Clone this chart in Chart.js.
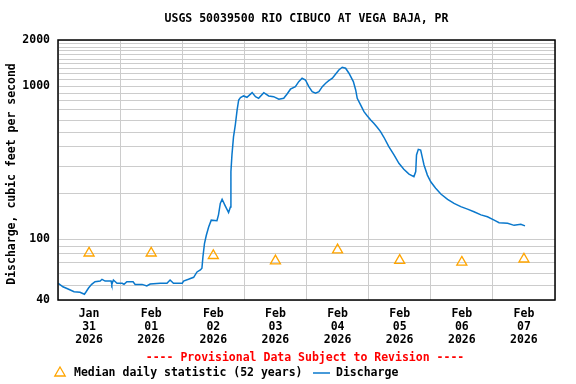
<!DOCTYPE html>
<html>
<head>
<meta charset="utf-8">
<script src="https://cdn.jsdelivr.net/npm/chart.js@4/dist/chart.umd.min.js"></script>
<style>
  html, body { margin: 0; padding: 0; background: #ffffff; }
  #wrap { width: 576px; height: 384px; }
</style>
</head>
<body>
<div id="wrap"><canvas id="c" width="576" height="384"></canvas></div>
<script>
// ---- Data ----
const chartTitle = 'USGS 50039500 RIO CIBUCO AT VEGA BAJA, PR';
const yAxisTitle = 'Discharge, cubic feet per second';
const provisionalNote = '---- Provisional Data Subject to Revision ----';
const medianLabel = 'Median daily statistic (52 years)';
const dischargeLabel = 'Discharge';

// x values: hours since 2026-01-31 00:00
const dayMonths = ['Jan', 'Feb', 'Feb', 'Feb', 'Feb', 'Feb', 'Feb', 'Feb'];
const dayNumbers = ['31', '01', '02', '03', '04', '05', '06', '07'];
const dayYears = ['2026', '2026', '2026', '2026', '2026', '2026', '2026', '2026'];

const yTickValues = [40, 50, 60, 70, 80, 90, 100, 200, 300, 400, 500, 600, 700, 800, 900,
  1000, 1100, 1200, 1300, 1400, 1500, 1600, 1700, 1800, 1900, 2000];
const yLabeledTicks = [40, 100, 1000, 2000];

const dischargeHours = [0.1, 1.9, 3.9, 6.2, 8.5, 10.2, 10.8, 11.8, 13.0, 14.3, 16.3, 17.0, 18.2, 20.5, 20.8,
  21.4, 22.8, 24.8, 25.5, 26.6, 29.0, 29.8, 32.5, 34.3, 35.6, 39.5, 42.1, 43.3, 44.6, 48.0,
  48.5, 50.4, 52.4, 53.7, 55.0, 55.6, 56.0, 56.6, 57.3, 58.2, 59.2, 61.4, 62.0, 62.7, 63.4,
  64.6, 65.9, 66.6, 66.8, 67.2, 67.8, 68.5, 69.2, 69.8, 70.5, 71.7, 73.0, 75.0, 76.3, 77.5,
  79.5, 81.4, 83.3, 85.3, 87.2, 88.5, 89.8, 91.7, 93.0, 94.3, 95.6, 96.9, 98.2, 99.5, 100.8,
  102.1, 103.4, 104.6, 106.0, 107.2, 108.5, 109.8, 111.1, 112.4, 114.1, 115.0, 115.6, 116.9,
  118.2, 119.5, 120.8, 122.0, 123.3, 124.6, 125.9, 127.8, 129.8, 131.7, 133.6, 135.6, 137.5,
  138.2, 138.5, 139.2, 140.1, 140.8, 141.4, 142.7, 144.0, 145.9, 147.9, 150.5, 153.0, 155.6,
  158.2, 160.7, 163.4, 165.9, 168.5, 170.4, 173.7, 176.2, 178.8, 180.4];
const dischargeCfs = [51.4, 48.8, 47.2, 45.3, 44.9, 43.6, 45.1, 47.9, 50.6, 52.7, 53.2, 54.6, 53.2, 53.2, 50.6,
  54.0, 51.4, 51.4, 50.6, 52.7, 52.7, 50.6, 50.6, 49.4, 50.9, 51.4, 51.4, 54.0, 51.4, 51.4,
  53.2, 54.6, 56.3, 61.0, 62.8, 64.5, 76.8, 93.9, 106, 120, 133, 132, 144, 171, 182,
  165, 149, 162, 275, 355, 465, 557, 698, 811, 840, 862, 845, 906, 853, 832,
  906, 862, 853, 820, 832, 888, 954, 992, 1069, 1125, 1096, 992, 919, 898, 919,
  992, 1044, 1085, 1125, 1195, 1274, 1328, 1308, 1213, 1069, 943, 832, 753,
  680, 638, 601, 571, 538, 504, 463, 402, 355, 313, 286, 266, 256,
  276, 355, 386, 382, 338, 305, 262, 237, 215, 197, 182, 171, 163,
  157, 151, 144, 140, 133, 128, 127, 123, 125, 122];

// Median daily statistic, plotted at noon of each day
const medianHours = [12, 36, 60, 84, 108, 132, 156, 180];
const medianCfs = [81, 81, 78, 72, 85, 72.5, 70.6, 74];

// ---- Chart ----
const FONT = "'DejaVu Sans Mono', monospace";
Chart.defaults.font.family = FONT;
Chart.defaults.font.size = 11.5;
Chart.defaults.font.weight = 'bold';
Chart.defaults.color = '#000';

const GRID = '#cccccc';
const BLUE = '#0a78cc';
const ORANGE = '#ffa500';

const frameAndText = {
  id: 'frameAndText',
  afterDraw(chart) {
    const ctx = chart.ctx;
    const a = chart.chartArea;
    ctx.save();
    ctx.strokeStyle = '#000';
    ctx.lineWidth = 1.5;
    ctx.strokeRect(a.left, a.top, a.right - a.left, a.bottom - a.top);

    ctx.font = 'bold 11.5px ' + FONT;
    ctx.fillStyle = '#000';
    ctx.textBaseline = 'middle';
    ctx.textAlign = 'center';
    ctx.fillText(chartTitle, (a.left + a.right) / 2, 19);

    ctx.save();
    ctx.translate(12, 174);
    ctx.rotate(-Math.PI / 2);
    ctx.fillText(yAxisTitle, 0, 0);
    ctx.restore();

    ctx.fillStyle = '#ff0000';
    ctx.fillText(provisionalNote, 305, 358.5);

    // legend
    const ly = 373;
    ctx.strokeStyle = ORANGE;
    ctx.lineWidth = 1.3;
    ctx.beginPath();
    ctx.moveTo(60, ly - 6);
    ctx.lineTo(65.2, ly + 3);
    ctx.lineTo(54.8, ly + 3);
    ctx.closePath();
    ctx.stroke();
    ctx.fillStyle = '#000';
    ctx.textAlign = 'left';
    ctx.fillText(medianLabel, 74, ly);
    ctx.strokeStyle = BLUE;
    ctx.lineWidth = 1.5;
    ctx.beginPath();
    ctx.moveTo(313, ly);
    ctx.lineTo(330, ly);
    ctx.stroke();
    ctx.fillText(dischargeLabel, 336, ly);
    ctx.restore();
  }
};

new Chart(document.getElementById('c'), {
  type: 'scatter',
  data: {
    datasets: [
      {
        label: dischargeLabel,
        data: dischargeHours.map((h, i) => ({ x: h, y: dischargeCfs[i] })),
        showLine: true,
        borderColor: BLUE,
        borderWidth: 1.5,
        pointRadius: 0,
        tension: 0,
        order: 2
      },
      {
        label: medianLabel,
        data: medianHours.map((h, i) => ({ x: h, y: medianCfs[i] })),
        showLine: false,
        pointStyle: 'triangle',
        pointRadius: 5.8,
        pointBorderColor: ORANGE,
        pointBackgroundColor: 'rgba(0,0,0,0)',
        pointBorderWidth: 1.3,
        borderColor: ORANGE,
        backgroundColor: 'rgba(0,0,0,0)',
        order: 1
      }
    ]
  },
  options: {
    responsive: false,
    animation: false,
    devicePixelRatio: 1,
    layout: { padding: { top: 40, right: 21, bottom: 0, left: 0 } },
    plugins: {
      legend: { display: false },
      title: { display: false },
      tooltip: { enabled: false }
    },
    scales: {
      x: {
        type: 'linear',
        min: 0,
        max: 192,
        afterBuildTicks(scale) {
          const t = [];
          for (let v = 0; v <= 192; v += 12) t.push({ value: v });
          scale.ticks = t;
        },
        afterFit(scale) { scale.height = 84; },
        grid: {
          drawTicks: false,
          lineWidth: 1,
          color(ctx) {
            return ctx.tick && ctx.tick.value % 24 === 0 ? GRID : 'rgba(0,0,0,0)';
          }
        },
        border: { display: false },
        ticks: {
          autoSkip: false,
          maxRotation: 0,
          padding: 8,
          font: { size: 11.5, weight: 'bold', lineHeight: 1.13 },
          callback(value) {
            if (value % 24 !== 12) return '';
            const i = (value - 12) / 24;
            return [dayMonths[i], dayNumbers[i], dayYears[i]];
          }
        }
      },
      y: {
        type: 'logarithmic',
        min: 40,
        max: 2000,
        afterBuildTicks(scale) {
          scale.ticks = yTickValues.map(v => ({ value: v }));
        },
        afterFit(scale) { scale.width = 58; },
        grid: { drawTicks: false, color: GRID, lineWidth: 1 },
        border: { display: false },
        ticks: {
          autoSkip: false,
          padding: 8,
          font: { size: 11.5, weight: 'bold' },
          callback(value) {
            return yLabeledTicks.includes(value) ? String(value) : '';
          }
        }
      }
    }
  },
  plugins: [frameAndText]
});
</script>
</body>
</html>
